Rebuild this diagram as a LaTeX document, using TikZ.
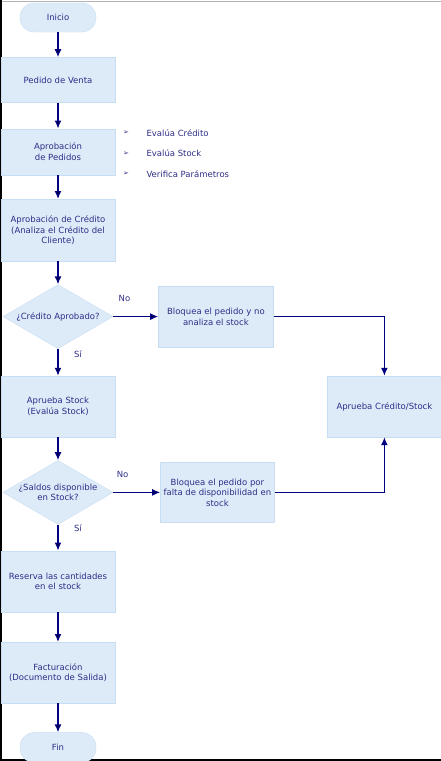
\documentclass[tikz,border=0pt]{standalone}
\usepackage{fontspec}
\setmainfont{DejaVu Sans}
\usetikzlibrary{shapes.geometric,positioning,arrows.meta}
\definecolor{boxfill}{RGB}{221,235,249}
\definecolor{boxline}{RGB}{199,221,241}
\definecolor{txtblue}{RGB}{45,45,135}
\definecolor{arrowblue}{RGB}{0,0,128}
\tikzset{x=1pt,y=-1pt,node distance=25pt,
	every node/.style={font=\fontsize{8.5}{10.5}\selectfont, text=txtblue, align=center},
	proc/.style={rectangle, draw=boxline, fill=boxfill, minimum width=114pt, inner sep=2pt},
	term/.style={rectangle, rounded corners=14pt, draw=boxline, fill=boxfill, minimum width=76pt, minimum height=29pt},
	decision/.style={diamond, draw=boxline, fill=boxfill, minimum width=110pt, minimum height=64pt, inner sep=0pt, aspect=1.7},
	flow/.style={-{Latex[length=8pt,width=7pt]}, draw=arrowblue, line width=1.4pt}}

\begin{document}
\begin{tikzpicture}
		\useasboundingbox (0,0) rectangle (441,761);
		\draw[gray!60, line width=1pt] (0,1) -- (441,1);
		\draw[black, line width=1.5pt] (0.75,0) -- (0.75,760) -- (441,760);

		\node[term] (ini) at (58,17.5) {Inicio};
		\node[proc, minimum height=45pt, below=25pt of ini] (ped) {Pedido de Venta};
		\node[proc, minimum height=46pt, below=26pt of ped] (apr) {Aprobación\\de Pedidos};
		\foreach \t [count=\i] in {Evalúa Crédito, Evalúa Stock, Verifica Parámetros} {
			\node[font=\fontsize{7}{8}\selectfont] (mk\i) at (126,112.5+20.5*\i) {➢};
			\node[anchor=west] (chk\i) at (143,112.5+20.5*\i) {\t};
		}
		\node[proc, minimum height=62pt, below=24pt of apr] (cre) {Aprobación de Crédito\\(Analiza el Crédito del\\Cliente)};
		\node[decision, below=23pt of cre]            (dc1) {¿Crédito Aprobado?};
		\node[proc, minimum height=61pt, minimum width=115pt, right=45pt of dc1] (bl1) {Bloquea el pedido y no\\analiza el stock};
		\node[proc, minimum height=61pt, below=27pt of dc1] (ast) {Aprueba Stock\\(Evalúa Stock)};
		\node[proc, minimum height=61pt, right=212pt of ast] (acs) {Aprueba Crédito/Stock};
		\node[decision, below=23pt of ast]            (dc2) {¿Saldos disponible\\en Stock?};
		\node[proc, minimum height=60pt, right=47pt of dc2] (bl2) {Bloquea el pedido por\\falta de disponibilidad en\\stock};
		\node[proc, minimum height=61pt, below=26pt of dc2] (res) {Reserva las cantidades\\en el stock};
		\node[proc, minimum height=61pt, below=30pt of res] (fac) {Facturación\\(Documento de Salida)};
		\node[term, minimum height=30pt, below=29pt of fac] (fin) {Fin};

		\path[flow]
			(ini) edge (ped)
			(ped) edge (apr)
			(apr) edge (cre)
			(cre) edge (dc1)
			(dc1) edge node[pos=0.25, above=11pt] {No} (bl1)
			(dc1) edge node[pos=0.2, right=12pt] {Sí} (ast)
			(ast) edge (dc2)
			(dc2) edge node[pos=0.2, above=11pt] {No} (bl2)
			(dc2) edge node[pos=0.15, right=12pt] {Sí} (res)
			(res) edge (fac)
			(fac) edge (fin);
		\draw[flow] (bl1) -| (acs);
		\draw[flow] (bl2) -| (acs);
	\end{tikzpicture}
\end{document}
